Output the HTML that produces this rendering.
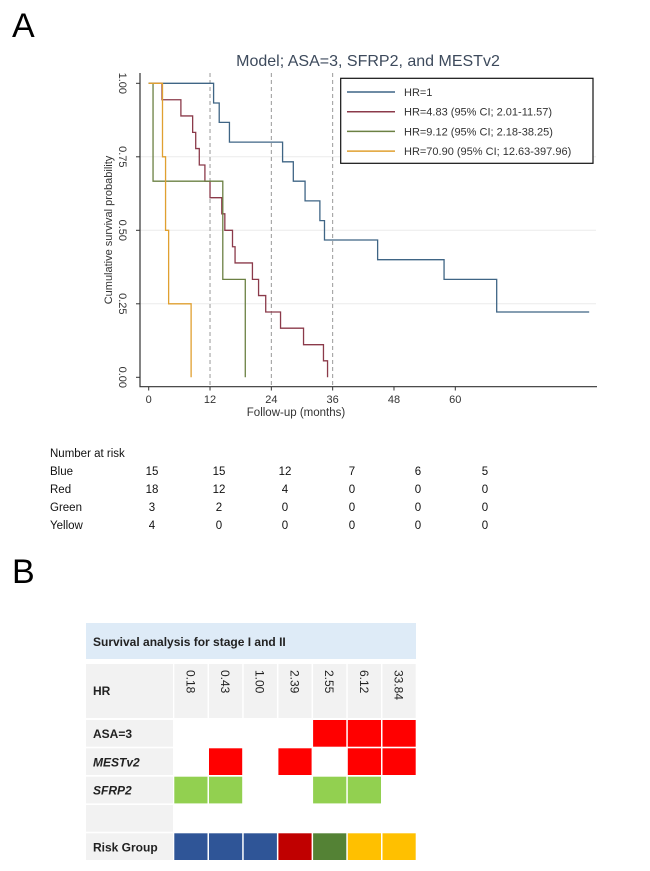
<!DOCTYPE html>
<html><head><meta charset="utf-8"><style>
body{margin:0;background:#fff;width:650px;height:871px;overflow:hidden;font-family:"Liberation Sans",sans-serif}
svg{display:block}
</style></head><body>
<svg id="fig" width="650" height="871" xmlns="http://www.w3.org/2000/svg">
<text x="12" y="37" font-size="34" font-family="Liberation Sans">A</text>
<text x="12" y="583" font-size="34" font-family="Liberation Sans">B</text>
<text x="368" y="66" font-size="16" fill="#3d4a5c" text-anchor="middle">Model; ASA=3, SFRP2, and MESTv2</text>
<g id="plot"></g>
<g id="risk"></g>
<g id="tbl"></g>
</svg>
<script>
const NS="http://www.w3.org/2000/svg";
const blueT=[0,12.7,13.8,15.8,26.2,28.3,30.6,33.5,34.4,44.8,57.8,68.1,86.2];
const blueS=[1,0.933,0.867,0.8,0.733,0.667,0.6,0.533,0.467,0.4,0.333,0.222,0.222];
const redT=[0,2.6,6.3,8.6,9.2,9.9,11.0,12.0,14.3,14.9,16.4,16.9,20.3,21.5,22.9,25.8,30.3,34.2,35.0];
const redS=[1,0.944,0.889,0.833,0.778,0.722,0.667,0.611,0.556,0.5,0.444,0.389,0.333,0.278,0.222,0.167,0.111,0.056,0];
const greenT=[0,0.85,14.5,18.9];
const greenS=[1,0.667,0.333,0];
const yellowT=[0,2.7,3.3,3.9,8.3];
const yellowS=[1,0.75,0.5,0.25,0];
const xTicks=[0,12,24,36,48,60];
const yTicks=[0,0.25,0.5,0.75,1];
const dashedAt=[12,24,36];
const legendLabels=["HR=1","HR=4.83 (95% CI; 2.01-11.57)","HR=9.12 (95% CI; 2.18-38.25)","HR=70.90 (95% CI; 12.63-397.96)"];
const riskGroups=["Blue","Red","Green","Yellow"];
const riskBlue=[15,15,12,7,6,5];
const riskRed=[18,12,4,0,0,0];
const riskGreen=[3,2,0,0,0,0];
const riskYellow=[4,0,0,0,0,0];
const hrValues=["0.18","0.43","1.00","2.39","2.55","6.12","33.84"];
const rowLabels=["ASA=3","MESTv2","SFRP2","","Risk Group"];
const asaRow=[0,0,0,0,1,1,1];
const mestRow=[0,1,0,1,0,1,1];
const sfrpRow=[1,1,0,0,1,1,0];
const riskRow=["b","b","b","r","g","y","y"];

const X=m=>148.7+m*5.11, Y=s=>377.3-s*294;
function el(tag,attrs,parent,txt){const e=document.createElementNS(NS,tag);for(const k in attrs)e.setAttribute(k,attrs[k]);if(txt!==undefined)e.textContent=txt;parent.appendChild(e);return e;}
const P=document.getElementById('plot');
yTicks.forEach(v=>{if(v>0&&v<1){const g=el('line',{x1:140,x2:596,y1:Y(v),y2:Y(v),stroke:'#ececec','stroke-width':1},P);

}});
let a=el('path',{d:`M140 73V386.7H597`,fill:'none',stroke:'#333','stroke-width':1.2},P);


xTicks.forEach(v=>{el('line',{x1:X(v),x2:X(v),y1:386.7,y2:390.5,stroke:'#333'},P);
const t=el('text',{x:X(v),y:403,'font-size':11,'text-anchor':'middle',fill:'#333'},P,String(v));

});
yTicks.forEach(v=>{el('line',{x1:136,x2:140,y1:Y(v),y2:Y(v),stroke:'#333'},P);
const t=el('text',{x:0,y:0,'font-size':11,'text-anchor':'middle',fill:'#333',transform:`translate(119,${Y(v)}) rotate(90)`},P,v.toFixed(2));

});
let xt=el('text',{x:296,y:416,'font-size':11.5,'text-anchor':'middle',fill:'#333'},P,'Follow-up (months)');


let yt=el('text',{x:0,y:0,'font-size':11,'text-anchor':'middle',fill:'#333',transform:'translate(112,230) rotate(-90)'},P,'Cumulative survival probability');


dashedAt.forEach(v=>{const d=el('line',{x1:X(v),x2:X(v),y1:73,y2:386.7,stroke:'#999','stroke-dasharray':'4,3','stroke-width':1},P);

});
function step(T,S){let d=`M${X(T[0])} ${Y(S[0])}`;for(let i=1;i<T.length;i++){d+=`H${X(T[i])}V${Y(S[i])}`;}return d;}
const series=[[blueT,blueS,'#3f6585','km-curve-blue'],[redT,redS,'#8b3a4a','km-curve-red'],[greenT,greenS,'#6b8043','km-curve-green'],[yellowT,yellowS,'#e0a030','km-curve-yellow']];
series.forEach(s=>{const p=el('path',{d:step(s[0],s[1]),fill:'none',stroke:s[2],'stroke-width':1.3},P);

});
const lg=el('g',{},P);


el('rect',{x:340.7,y:78.3,width:252.3,height:85,fill:'#fff',stroke:'#111','stroke-width':1.2},lg);
series.forEach((s,i)=>{const yy=92+i*19.7;
el('line',{x1:347,x2:395,y1:yy,y2:yy,stroke:s[2],'stroke-width':1.5},lg);
const t=el('text',{x:404,y:yy+4,'font-size':11,fill:'#333'},lg,legendLabels[i]);

});
const R=document.getElementById('risk');
el('text',{x:50,y:457,'font-size':11.5,fill:'#111'},R,'Number at risk');
const riskCols=[152,219,285,352,418,485];
[riskBlue,riskRed,riskGreen,riskYellow].forEach((arr,i)=>{const yy=475+i*18;
const l=el('text',{x:50,y:yy,'font-size':11.5,fill:'#111'},R,riskGroups[i]);


arr.forEach((v,j)=>{const t=el('text',{x:riskCols[j],y:yy,'font-size':11.5,'text-anchor':'middle',fill:'#111'},R,String(v));

});});
const Tb=document.getElementById('tbl');
let hb=el('rect',{x:86,y:623,width:330,height:36,fill:'#deebf7'},Tb);


el('text',{x:93,y:646,'font-size':12,'font-weight':'bold',fill:'#222'},Tb,'Survival analysis for stage I and II');
const cx=i=>174.3+i*34.7, cw=33.2;
el('rect',{x:86,y:664,width:87,height:54,fill:'#f2f2f2'},Tb);
el('text',{x:93,y:695,'font-size':12,'font-weight':'bold',fill:'#222'},Tb,'HR');
hrValues.forEach((v,i)=>{el('rect',{x:cx(i),y:664,width:cw,height:54,fill:'#f2f2f2'},Tb);
const t=el('text',{x:0,y:0,'font-size':12,fill:'#222',transform:`translate(${cx(i)+12},${670}) rotate(90)`},Tb,v);

});
const rowY=[720,748.3,776.7,805,833.3];
const colors={b:'#2f5597',r:'#c00000',g:'#548235',y:'#ffc000'};
rowLabels.forEach((lab,r)=>{el('rect',{x:86,y:rowY[r],width:87,height:26.7,fill:'#f2f2f2'},Tb);
const t=el('text',{x:93,y:rowY[r]+18,'font-size':12,'font-weight':'bold','font-style':(r==1||r==2)?'italic':'normal',fill:'#222'},Tb,lab);

});
[[asaRow,'#ff0000'],[mestRow,'#ff0000'],[sfrpRow,'#92d050']].forEach((rw,r)=>{rw[0].forEach((v,i)=>{if(v){const c=el('rect',{x:cx(i),y:rowY[r],width:cw,height:26.7,fill:rw[1]},Tb);

}});});
riskRow.forEach((v,i)=>{const c=el('rect',{x:cx(i),y:rowY[4],width:cw,height:26.7,fill:colors[v]},Tb);

});
</script>
</body></html>
